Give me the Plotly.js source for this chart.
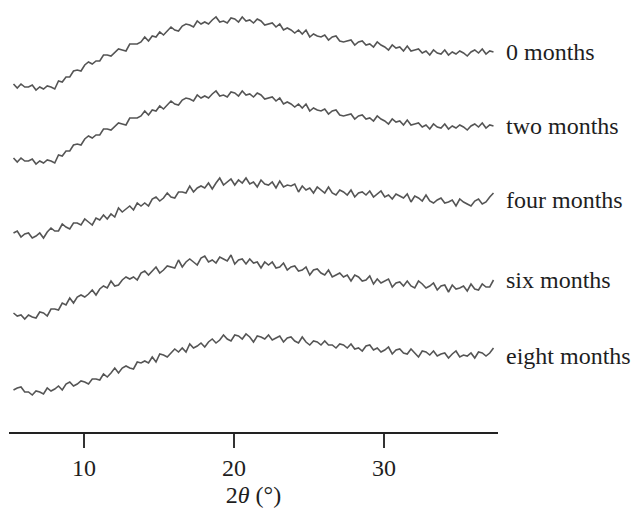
<!DOCTYPE html>
<html>
<head>
<meta charset="utf-8">
<script src="https://cdn.plot.ly/plotly-3.0.1.min.js"></script>
<style>
html,body{margin:0;padding:0;background:#fff;}
#chart{width:632px;height:508px;}
</style>
</head>
<body>
<div id="chart"></div>
<script>
// 2-theta grid: start and step (degrees)
const twoThetaStart = 5.3;
const twoThetaStep = 0.25;

const sampleNames = ["0 months", "two months", "four months", "six months", "eight months"];

// intensities (a.u.)
const zeroMonths = [8,4,8,5,5,7,2,5,3,6,5,3,11,10,15,15,21,22,21,27,30,28,31,31,37,37,36,40,43,42,41,48,48,48,50,55,51,56,55,60,57,61,65,62,61,66,68,67,65,71,68,70,68,72,75,70,71,69,74,73,70,75,71,72,69,73,71,67,68,69,65,68,62,64,62,59,62,58,62,55,58,56,55,57,52,55,56,51,50,51,52,47,50,51,47,48,45,50,47,45,42,47,44,45,41,46,41,42,43,39,41,37,42,39,38,42,37,40,38,41,39,36,40,42,39,43,38,41,40];
const twoMonths = [8,4,8,5,5,7,2,5,3,6,5,3,11,10,15,15,21,22,21,27,30,28,31,31,37,37,36,40,43,42,41,48,48,48,50,55,51,56,55,60,57,61,65,62,61,66,68,67,65,71,68,70,68,72,75,70,71,69,74,73,70,75,71,72,69,73,71,67,68,69,65,68,62,64,62,59,62,58,62,55,58,56,55,57,52,55,56,51,50,51,52,47,50,51,47,48,45,50,47,45,42,47,44,45,41,46,41,42,43,39,41,37,42,39,38,42,37,40,38,41,39,36,40,42,39,43,38,41,40];
const fourMonths = [7,9,3,6,7,2,4,7,2,8,12,9,9,16,13,11,17,17,15,21,18,15,22,20,25,21,26,23,32,28,31,34,30,37,34,37,34,41,43,39,42,47,43,42,48,48,47,54,48,52,54,52,57,51,57,62,55,58,61,55,60,57,62,56,58,53,60,56,55,58,52,59,53,55,54,56,48,54,50,52,47,53,50,47,53,47,45,50,48,45,50,43,47,48,45,49,43,46,49,43,45,41,46,44,42,46,38,44,42,39,45,39,37,40,42,37,38,40,34,41,38,36,34,39,41,36,38,43,47];
const sixMonths = [7,4,5,1,5,3,2,8,7,4,11,11,10,17,15,22,17,23,25,23,26,30,25,31,34,32,39,34,35,40,43,41,43,40,47,49,45,49,53,47,50,54,53,52,60,53,58,61,58,55,62,64,58,60,57,63,61,59,65,56,60,61,56,61,57,58,52,58,55,58,52,53,57,50,53,54,49,50,53,45,50,51,47,45,50,43,45,47,43,45,39,45,43,39,40,44,36,41,37,39,41,33,37,38,34,39,34,32,39,36,32,34,37,30,34,35,28,35,31,32,34,29,36,31,30,36,33,33,40];
const eightMonths = [6,8,9,4,4,1,5,4,2,8,5,7,10,6,12,14,10,12,15,14,12,17,17,16,22,19,23,28,23,28,30,28,27,34,33,35,33,39,34,42,41,39,43,47,44,48,44,52,48,50,53,49,54,57,53,56,61,57,55,61,60,57,62,59,54,60,59,57,61,56,58,60,54,58,59,55,53,59,54,51,55,54,51,55,51,51,48,52,51,48,52,47,48,45,50,51,46,48,44,46,49,42,46,47,43,42,47,43,39,45,44,41,45,40,42,43,38,42,45,39,41,40,43,38,44,43,40,43,48];

const seriesList = [zeroMonths, twoMonths, fourMonths, sixMonths, eightMonths];
// vertical stacking offsets for display
const stackOffsets = [340, 266, 192, 112, 36];

const lineColor = "#555555";
const serif = "Liberation Serif, Times New Roman, serif";

const traces = seriesList.map((vals, k) => ({
  type: "scatter",
  mode: "lines",
  x0: twoThetaStart,
  dx: twoThetaStep,
  y: vals.map(v => v + stackOffsets[k]),
  line: {color: lineColor, width: 1.6},
  hoverinfo: "skip",
  showlegend: false
}));

const annotations = sampleNames.map((name, k) => ({
  xref: "paper", yref: "y",
  x: 1, y: stackOffsets[k] + 40,
  xanchor: "left", yanchor: "middle",
  xshift: 6,
  text: name,
  showarrow: false,
  font: {family: serif, size: 24, color: "#1e1e1e"}
}));

const layout = {
  width: 632, height: 508,
  margin: {l: 9, r: 134, t: 0, b: 76},
  paper_bgcolor: "#fff", plot_bgcolor: "#fff",
  showlegend: false,
  xaxis: {
    range: [5, 37.6],
    tickvals: [10, 20, 30],
    ticktext: ["10", "20", "30"],
    ticks: "outside", ticklen: 14, tickwidth: 1.5, tickcolor: "#333",
    showline: true, linewidth: 1.5, linecolor: "#222",
    showgrid: false, zeroline: false,
    tickfont: {family: serif, size: 24, color: "#1e1e1e"},
    title: {text: "2<i>θ</i> (°)", font: {family: serif, size: 24, color: "#1e1e1e"}, standoff: 9}
  },
  yaxis: {range: [0, 432], visible: false, showgrid: false, zeroline: false},
  annotations: annotations
};

Plotly.newPlot("chart", traces, layout, {displayModeBar: false, staticPlot: true});
</script>
</body>
</html>
